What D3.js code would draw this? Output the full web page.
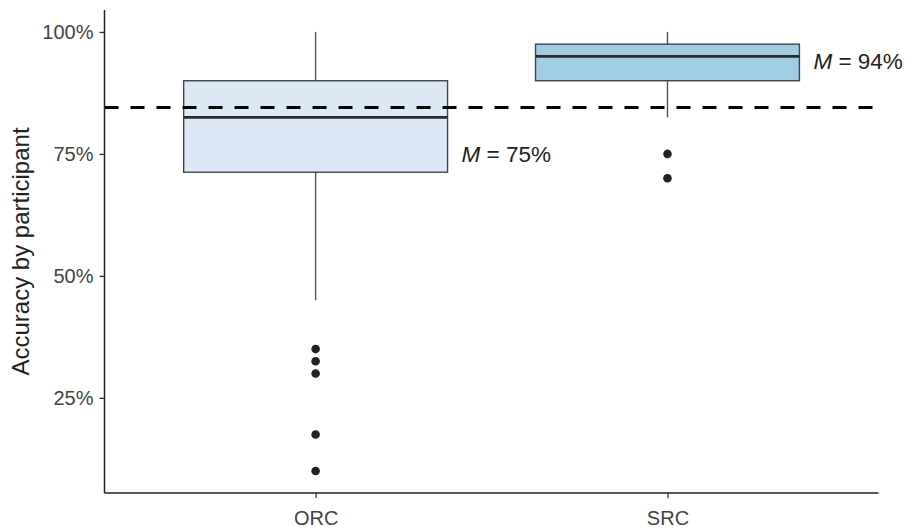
<!DOCTYPE html>
<html>
<head>
<meta charset="utf-8">
<script src="https://cdn.jsdelivr.net/npm/d3@7"></script>
<style>
  body { margin: 0; background: #fff; }
  svg { display: block; font-family: "Liberation Sans", Arial, sans-serif; }
</style>
</head>
<body>
<svg id="chart" width="909" height="531"></svg>
<script>
// Per-participant accuracy (%) by clause type
const categories = ["ORC", "SRC"];
const q1 = [71.25, 90];
const medians = [82.5, 95];
const q3 = [90, 97.5];
const whiskerLow = [45, 82.5];
const whiskerHigh = [100, 100];
const outliers = [[35, 32.5, 30, 17.5, 10], [75, 70]];
const means = [75, 94];
const meanLabels = ["75%", "94%"];
const fills = ["#dce8f5", "#a0cde4"];
const referenceLine = 84.5;
const yTicks = [25, 50, 75, 100];

const svg = d3.select("#chart");
const panel = { left: 104.5, right: 878.6, top: 10, bottom: 493 };

// ggplot-like expansion: 5% continuous, 0.6 discrete
const yMin = 10, yMax = 100, pad = (yMax - yMin) * 0.05;
const y = d3.scaleLinear().domain([yMin - pad, yMax + pad]).range([panel.bottom, panel.top]);
const xPos = d3.scaleLinear().domain([0.4, 2.6]).range([panel.left, panel.right]);
const unit = xPos(2) - xPos(1);
const boxW = unit * 0.75;

const g = svg.append("g");

categories.forEach((c, i) => {
  const cx = xPos(i + 1);
  // whiskers
  g.append("line").attr("x1", cx).attr("x2", cx)
    .attr("y1", y(q3[i])).attr("y2", y(whiskerHigh[i]))
    .attr("stroke", "#555").attr("stroke-width", 1.4);
  g.append("line").attr("x1", cx).attr("x2", cx)
    .attr("y1", y(q1[i])).attr("y2", y(whiskerLow[i]))
    .attr("stroke", "#555").attr("stroke-width", 1.4);
  // box
  g.append("rect")
    .attr("x", cx - boxW / 2).attr("width", boxW)
    .attr("y", y(q3[i])).attr("height", y(q1[i]) - y(q3[i]))
    .attr("fill", fills[i]).attr("stroke", "#444").attr("stroke-width", 1.4);
  // median
  g.append("line")
    .attr("x1", cx - boxW / 2).attr("x2", cx + boxW / 2)
    .attr("y1", y(medians[i])).attr("y2", y(medians[i]))
    .attr("stroke", "#2a2a2a").attr("stroke-width", 2.8);
  // outliers
  g.selectAll(null).data(outliers[i]).enter().append("circle")
    .attr("cx", cx).attr("cy", d => y(d)).attr("r", 4.3)
    .attr("fill", "#222");
  // mean label
  const t = g.append("text")
    .attr("x", cx + boxW / 2 + 14).attr("y", y(means[i]))
    .attr("dy", "0.35em")
    .attr("font-size", 22.5).attr("fill", "#222");
  t.append("tspan").attr("font-style", "italic").text("M");
  t.append("tspan").text(" = " + meanLabels[i]);
});

// dashed reference line
g.append("line")
  .attr("x1", panel.left).attr("x2", panel.right)
  .attr("y1", y(referenceLine)).attr("y2", y(referenceLine))
  .attr("stroke", "#000").attr("stroke-width", 3)
  .attr("stroke-dasharray", "14,12");

// y axis
const yAxis = svg.append("g").attr("transform", `translate(${panel.left},0)`)
  .call(d3.axisLeft(y).tickValues(yTicks).tickFormat(d => d + "%").tickSize(5).tickPadding(6));
yAxis.select(".domain").attr("d", `M0,${panel.top}V${panel.bottom}`).attr("stroke", "#222").attr("stroke-width", 1.5);
yAxis.selectAll(".tick line").attr("stroke", "#333").attr("stroke-width", 1.3);
yAxis.selectAll(".tick text").attr("font-size", 20).attr("fill", "#444")
  .attr("font-family", "Liberation Sans, Arial, sans-serif");

// x axis
const xBand = d3.scalePoint().domain(categories).range([xPos(1), xPos(2)]);
const xAxis = svg.append("g").attr("transform", `translate(0,${panel.bottom})`)
  .call(d3.axisBottom(xBand).tickSize(5).tickPadding(13));
xAxis.select(".domain").attr("d", `M${panel.left},0H${panel.right}`).attr("stroke", "#222").attr("stroke-width", 1.5);
xAxis.selectAll(".tick line").attr("stroke", "#333").attr("stroke-width", 1.3);
xAxis.selectAll(".tick text").attr("font-size", 20).attr("fill", "#444")
  .attr("font-family", "Liberation Sans, Arial, sans-serif");

// y axis title
svg.append("text")
  .attr("transform", `translate(29,${(panel.top + panel.bottom) / 2}) rotate(-90)`)
  .attr("text-anchor", "middle")
  .attr("font-size", 24).attr("fill", "#222")
  .text("Accuracy by participant");
</script>
</body>
</html>
